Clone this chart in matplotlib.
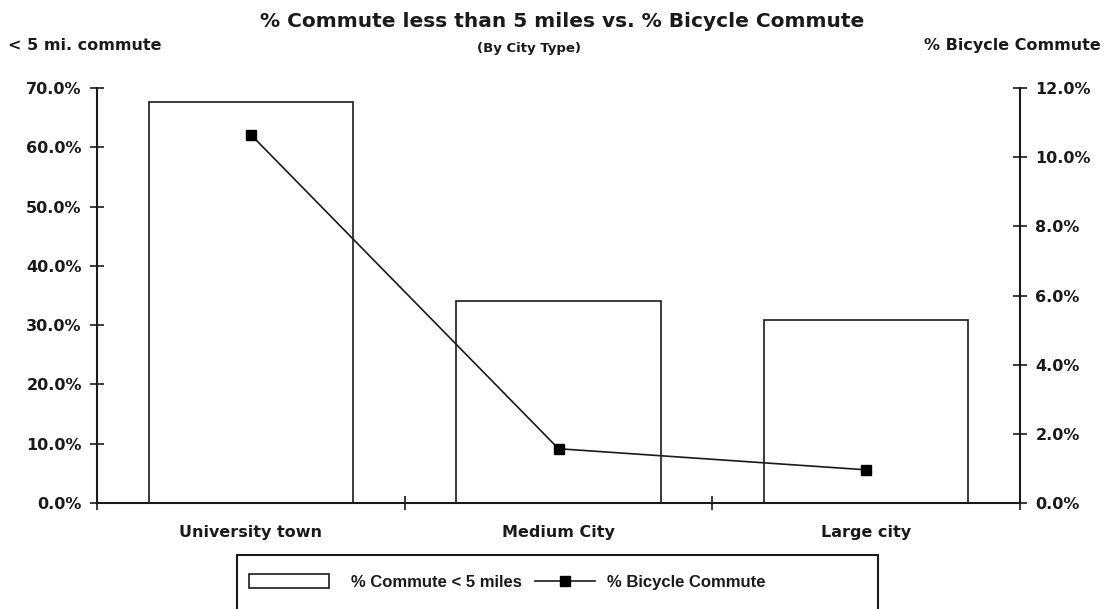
import matplotlib
matplotlib.use("Agg")
import matplotlib.pyplot as plt
from matplotlib.ticker import FuncFormatter, FixedLocator
from matplotlib.patches import Rectangle
import numpy as np

categories = ["University town", "Medium City", "Large city"]
pct_short_commute = [67.6, 34.0, 30.9]
pct_bicycle = [10.65, 1.57, 0.96]

plt.rcParams['font.family'] = ['DejaVu Sans']
INK = '#1a1a1a'

fig = plt.figure(figsize=(11.04, 6.09), dpi=100)
ax = fig.add_axes([0.0879, 0.174, 0.836, 0.6815])
ax2 = ax.twinx()

x = np.arange(len(categories))
bars = ax.bar(x, pct_short_commute, width=0.665, facecolor='white', edgecolor=INK,
              linewidth=1.2, label='% Commute < 5 miles', zorder=2)
ax.set_xlim(-0.5, 2.5)
ax.set_ylim(0, 70)
ax.yaxis.set_major_locator(FixedLocator(np.arange(0, 71, 10)))
ax.yaxis.set_major_formatter(FuncFormatter(lambda v, p: f"{v:.1f}%"))

line, = ax2.plot(x, pct_bicycle, color=INK, linewidth=1.2, marker='s', markersize=6.5,
                 markerfacecolor='black', markeredgecolor='black', label='% Bicycle Commute', zorder=3)
ax2.set_ylim(0, 12)
ax2.yaxis.set_major_locator(FixedLocator(np.arange(0, 12.1, 2)))
ax2.yaxis.set_major_formatter(FuncFormatter(lambda v, p: f"{v:.1f}%"))

ax.set_xticks([-0.5, 0.5, 1.5, 2.5])
ax.set_xticks(x, minor=True)
ax.set_xticklabels([])
ax.set_xticklabels(categories, minor=True)
ax.tick_params(axis='x', which='major', direction='inout', length=10, width=1.2, color=INK)
ax.tick_params(axis='x', which='minor', length=0, pad=16, labelsize=11.5)

for a in (ax, ax2):
    a.spines['top'].set_visible(False)
    for s in ('left', 'right', 'bottom'):
        a.spines[s].set_linewidth(1.5)
        a.spines[s].set_color(INK)
ax.spines['right'].set_visible(False)
ax2.spines['left'].set_visible(False)
ax2.spines['bottom'].set_visible(False)

ax.tick_params(axis='y', direction='inout', length=10, width=1.2, color=INK, labelsize=11.5, pad=6)
ax2.tick_params(axis='y', direction='inout', length=10, width=1.2, color=INK, labelsize=11.5, pad=6)
for lab in ax.get_yticklabels() + ax2.get_yticklabels() + ax.get_xticklabels(minor=True):
    lab.set_fontweight('bold')
    lab.set_color(INK)

fig.text(0.509, 0.965, "% Commute less than 5 miles vs. % Bicycle Commute", ha='center', va='center',
         fontsize=14.5, fontweight='bold', color=INK)
fig.text(0.479, 0.92, "(By City Type)", ha='center', va='center', fontsize=9.5, fontweight='bold', color=INK)
fig.text(0.007, 0.926, "< 5 mi. commute", ha='left', va='center', fontsize=11.5, fontweight='bold', color=INK)
fig.text(0.997, 0.926, "% Bicycle Commute", ha='right', va='center', fontsize=11.5, fontweight='bold', color=INK)

# legend frame (extends past the bottom edge like the reference)
frame = Rectangle((237 / 1104, -0.05), (878 - 237) / 1104, 0.05 + (609 - 555) / 609,
                  transform=fig.transFigure, facecolor='white', edgecolor=INK, linewidth=1.5,
                  clip_on=False)
fig.patches.append(frame)

leg_y = 1 - 582 / 609
leg_font = {'family': ['Liberation Sans', 'DejaVu Sans'], 'weight': 'bold', 'size': 12}
leg1 = fig.legend([bars], ['% Commute < 5 miles'], loc='center left',
                  bbox_to_anchor=(249 / 1104, leg_y), frameon=False, prop=leg_font,
                  handlelength=4.8, handleheight=0.9, handletextpad=1.3,
                  borderpad=0, borderaxespad=0)
leg2 = fig.legend([line], ['% Bicycle Commute'], loc='center left',
                  bbox_to_anchor=(535 / 1104, leg_y), frameon=False, prop=leg_font,
                  handlelength=3.6, handleheight=0.9, handletextpad=0.7,
                  borderpad=0, borderaxespad=0)
for leg in (leg1, leg2):
    for t in leg.get_texts():
        t.set_color(INK)

fig.savefig("out.png", dpi=100)
